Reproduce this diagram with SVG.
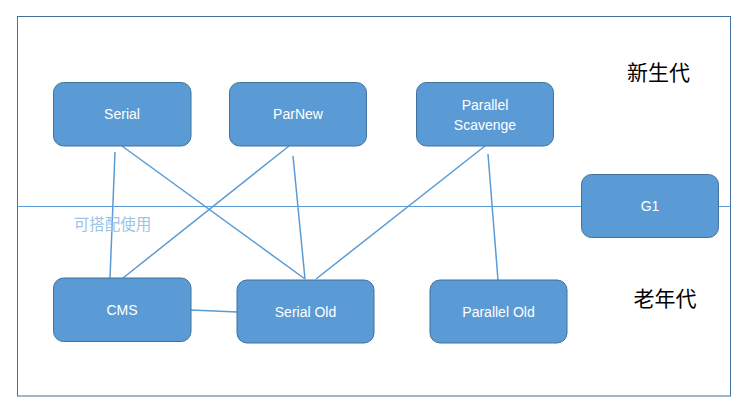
<svg xmlns="http://www.w3.org/2000/svg" width="746" height="417" viewBox="0 0 746 417">
<style>
.box{fill:#5b9bd5;stroke:#41719c;stroke-width:1}
.lbl{font-family:"Liberation Sans",Arial,sans-serif;font-size:14px;fill:#ffffff;text-anchor:middle;dominant-baseline:central}
.cn{stroke:#5b9bd5;stroke-width:1.5;fill:none}
.zh{font-family:"Noto Sans CJK SC",sans-serif;text-anchor:middle;dominant-baseline:central}
</style>
<rect x="0" y="0" width="746" height="417" fill="#ffffff"/>
<g id="frame">
<rect x="17.5" y="16.5" width="713" height="379.5" fill="none" stroke="#41719c" stroke-width="1"/>
<line x1="17.5" y1="206.5" x2="730.5" y2="206.5" stroke="#5b9bd5" stroke-width="1"/>
</g>
<g id="connectors">
<line class="cn" x1="115" y1="152" x2="110" y2="278"/>
<line class="cn" x1="122" y1="146" x2="305" y2="279"/>
<line class="cn" x1="289" y1="146" x2="123" y2="278"/>
<line class="cn" x1="293" y1="156" x2="305" y2="279"/>
<line class="cn" x1="485" y1="146" x2="316" y2="279"/>
<line class="cn" x1="488" y1="154" x2="498" y2="280"/>
<line class="cn" x1="191" y1="310" x2="237" y2="312"/>
</g>
<g id="serial"><rect class="box" x="53.5" y="82.5" width="137.5" height="63.5" rx="10"/><text class="lbl" x="122" y="114">Serial</text></g>
<g id="parnew"><rect class="box" x="229.5" y="82.5" width="137" height="63.5" rx="10"/><text class="lbl" x="298" y="114">ParNew</text></g>
<g id="parallel-scavenge"><rect class="box" x="416.5" y="82.5" width="137" height="63.5" rx="10"/><text class="lbl" x="485" y="105">Parallel</text><text class="lbl" x="485" y="125">Scavenge</text></g>
<g id="g1"><rect class="box" x="581.5" y="174.5" width="137" height="63" rx="10"/><text class="lbl" x="650" y="206">G1</text></g>
<g id="cms"><rect class="box" x="53.5" y="278" width="137.5" height="63.5" rx="10"/><text class="lbl" x="122" y="310">CMS</text></g>
<g id="serial-old"><rect class="box" x="237" y="280" width="137" height="63" rx="10"/><text class="lbl" x="305.5" y="311.5">Serial Old</text></g>
<g id="parallel-old"><rect class="box" x="430" y="280" width="137" height="63" rx="10"/><text class="lbl" x="498.5" y="311.5">Parallel Old</text></g>
<g id="labels">
<text class="zh" x="658.5" y="71" font-size="21" fill="#000000">新生代</text>
<text class="zh" x="665" y="297" font-size="21" fill="#000000">老年代</text>
<text class="zh" x="112.5" y="223" font-size="15.5" fill="#9dc3e6">可搭配使用</text>
</g>
</svg>
